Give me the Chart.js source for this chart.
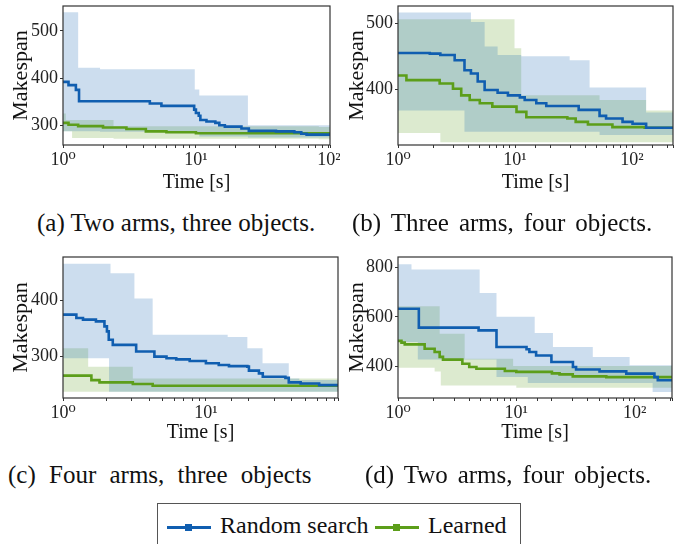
<!DOCTYPE html>
<html>
<head>
<meta charset="utf-8">
<script src="https://cdn.jsdelivr.net/npm/chart.js@4.4.0/dist/chart.umd.min.js"></script>
<style>
  body { margin: 0; background: #fff; width: 684px; height: 544px; overflow: hidden; position: relative;
         font-family: 'Liberation Serif', 'Times New Roman', serif; color: #111; }
  canvas { position: absolute; }
  .cap { position: absolute; font-size: 25px; line-height: 25px; white-space: nowrap; }
  #legend { position: absolute; left: 157px; top: 503px; width: 362px; height: 60px; border: 1px solid #555; }
  .ln { position: absolute; height: 3px; width: 44px; top: 22px; }
  .mk { position: absolute; width: 7px; height: 7px; top: -2px; left: 18px; }
  .lt { position: absolute; top: 9px; font-size: 24px; line-height: 24px; white-space: nowrap; }
</style>
</head>
<body>
<canvas id="pa" width="340" height="200" style="left:0;top:0"></canvas>
<canvas id="pb" width="344" height="200" style="left:340px;top:0"></canvas>
<canvas id="pc" width="344" height="200" style="left:0;top:250px"></canvas>
<canvas id="pd" width="344" height="200" style="left:340px;top:250px"></canvas>

<div class="cap" style="left:37px;top:210px">(a) Two arms, three objects.</div>
<div class="cap" style="left:352px;top:210px;word-spacing:3.7px">(b) Three arms, four objects.</div>
<div class="cap" style="left:8px;top:462px;word-spacing:7px">(c) Four arms, three objects</div>
<div class="cap" style="left:365px;top:462px;word-spacing:3.7px">(d) Two arms, four objects.</div>

<div id="legend">
  <div class="ln" style="left:9px;background:#105eb0"><div class="mk" style="background:#105eb0"></div></div>
  <div class="lt" style="left:62px">Random search</div>
  <div class="ln" style="left:217px;background:#5c9e1a"><div class="mk" style="background:#5c9e1a"></div></div>
  <div class="lt" style="left:270px">Learned</div>
</div>

<script>
// (a) two arms, three objects
var aRandomT = [1, 1.1, 1.25, 1.32, 4.5, 5.5, 9.7, 10, 10.5, 10.8, 12, 14, 15, 16.5, 22, 25, 40, 55, 62, 68, 102];
var aRandomY = [392, 385, 375, 351, 346, 341, 333, 326, 320, 311, 308, 305, 300, 297, 293, 288, 287, 285, 282, 280, 280];
var aLearnedT = [1, 1.1, 1.3, 2, 3, 4.2, 6, 10, 30, 102];
var aLearnedY = [305, 301, 298, 295, 292, 287, 285, 283, 283, 283];
var aRandomBandT = [1, 1.3, 1.9, 9.8, 10.6, 24.6, 102];
var aRandomHi = [540, 422, 419, 376, 363, 300, 300];
var aRandomLo = [287, 287, 286, 284, 276, 274, 274];
var aLearnedBandT = [1, 1.05, 1.17, 2.4, 84, 102];
var aLearnedHi = [325, 311, 311, 298, 296, 296];
var aLearnedLo = [287, 287, 273, 271, 270, 270];
var aYTicks = [300, 400, 500];

// (b) three arms, four objects
var bRandomT = [1, 1.87, 2.3, 3.05, 3.7, 4.2, 4.8, 5.5, 7.1, 8.7, 11, 12.1, 15.2, 18.5, 35, 52.8, 60, 83, 101, 132, 224];
var bRandomY = [455, 454, 452, 444, 429, 424, 412, 399, 395, 391, 388, 384, 379, 375, 369, 360, 356, 351, 348, 342, 342];
var bLearnedT = [1, 1.18, 1.87, 2.27, 2.95, 3.47, 4.1, 5, 6.4, 10.3, 12.5, 28, 33, 42, 68, 128, 224];
var bLearnedY = [421, 414, 414, 409, 401, 391, 384, 379, 374, 366, 358, 356, 351, 347, 343, 342, 342];
var bRandomBandT = [1, 3.7, 4.2, 5.5, 7.1, 11.3, 29.3, 43.4, 52.8, 132, 224];
var bRandomHi = [516, 516, 502, 465, 452, 450, 444, 403, 403, 365, 365];
var bRandomLo = [368, 336, 336, 336, 336, 336, 336, 336, 331, 331, 331];
var bLearnedBandT = [1, 2.3, 9.9, 11.3, 52.8, 132, 224];
var bLearnedHi = [506, 506, 462, 391, 384, 368, 368];
var bLearnedLo = [334, 320, 320, 320, 320, 320, 320];
var bYTicks = [400, 500];

// (c) four arms, three objects
var cRandomT = [1, 1.24, 1.38, 1.7, 1.95, 2.03, 2.09, 2.23, 3.25, 4.36, 5.3, 6.2, 7.7, 10, 12.3, 14.5, 19.5, 20, 23.5, 25, 36, 38, 46, 62, 84];
var cRandomY = [375, 369, 366, 363, 354, 345, 330, 321, 309, 300, 297, 295, 292, 288, 285, 283, 282, 275, 270, 264, 262, 254, 252, 249, 248];
var cLearnedT = [1, 1.5, 1.58, 1.8, 3.08, 4.24, 84];
var cLearnedY = [266, 266, 258, 254, 251, 248, 248];
var cRandomBandT = [1, 2.1, 2.15, 3.16, 4.24, 14.2, 19.5, 24.9, 38, 45, 84];
var cRandomHi = [466, 466, 449, 404, 339, 335, 315, 288, 261, 258, 258];
var cRandomLo = [297, 237, 237, 237, 237, 237, 237, 237, 237, 237, 237];
var cLearnedBandT = [1, 1.5, 3.08, 84];
var cLearnedHi = [315, 282, 261, 261];
var cLearnedLo = [237, 237, 237, 237];
var cYTicks = [300, 400];

// (d) two arms, four objects
var dRandomT = [1, 1.5, 4.8, 6.8, 12.2, 12.9, 14.7, 19.8, 30.1, 32, 50.5, 85, 147, 157, 207];
var dRandomY = [633, 556, 545, 477, 468, 457, 443, 416, 396, 386, 378, 369, 355, 342, 338];
var dLearnedT = [1, 1.07, 1.14, 1.68, 2.04, 2.25, 2.4, 3.5, 4, 4.6, 8, 10, 20, 23.2, 30, 57.6, 207];
var dLearnedY = [502, 495, 488, 470, 457, 437, 426, 409, 396, 389, 380, 376, 370, 366, 358, 355, 355];
var dRandomBandT = [1, 1.3, 1.47, 4.9, 6.8, 12.5, 14.3, 20.4, 44.3, 90.7, 142, 207];
var dRandomHi = [814, 792, 792, 697, 600, 600, 534, 477, 437, 403, 403, 403];
var dRandomLo = [498, 498, 426, 426, 355, 331, 331, 331, 331, 331, 294, 294];
var dLearnedBandT = [1, 2.04, 2.25, 2.3, 3.66, 9.4, 10, 207];
var dLearnedHi = [643, 643, 531, 531, 430, 400, 400, 400];
var dLearnedLo = [393, 378, 378, 321, 321, 321, 312, 312];
var dYTicks = [400, 600, 800];

var BLUE = '#105eb0', GREEN = '#5c9e1a';
var BLUE_BAND = 'rgba(16,94,176,0.21)', GREEN_BAND = 'rgba(92,158,26,0.21)';
var SERIF = "'Liberation Serif', 'DejaVu Serif', serif";
var SUP = ['\u2070', '\u00b9', '\u00b2', '\u00b3'];

function pts(t, y) {
    return t.map(function (v, i) { return { x: v, y: y[i] }; });
}

function line(label, data, color) {
    return { label: label, data: data, borderColor: color, borderWidth: 2.6, stepped: true, fill: false, pointRadius: 0 };
}

function band(data, color, fill) {
    return { data: data, borderColor: 'transparent', borderWidth: 0, backgroundColor: color, stepped: true, fill: fill, pointRadius: 0 };
}

// dark box round the plot area
var frame = {
    id: 'frame',
    afterDraw: function (chart) {
        var a = chart.chartArea, ctx = chart.ctx;
        ctx.save();
        ctx.strokeStyle = '#333';
        ctx.lineWidth = 1.2;
        ctx.strokeRect(a.left, a.top, a.right - a.left, a.bottom - a.top);
        ctx.restore();
    }
};

function panel(id, p) {
    new Chart(document.getElementById(id), {
        type: 'line',
        data: {
            datasets: [
                line('Random search', pts(p.rt, p.ry), BLUE),
                line('Learned', pts(p.lt, p.ly), GREEN),
                band(pts(p.rbt, p.rhi), BLUE_BAND, '+1'),
                band(pts(p.rbt, p.rlo), BLUE_BAND, false),
                band(pts(p.lbt, p.lhi), GREEN_BAND, '+1'),
                band(pts(p.lbt, p.llo), GREEN_BAND, false)
            ]
        },
        options: {
            responsive: false,
            animation: false,
            layout: { padding: { top: p.top, right: p.right, left: 0, bottom: 0 } },
            plugins: { legend: { display: false }, tooltip: { enabled: false } },
            scales: {
                x: {
                    type: 'logarithmic',
                    min: 1,
                    max: p.xmax,
                    border: { display: false },
                    grid: { drawOnChartArea: false, tickLength: 3, color: '#333' },
                    ticks: {
                        autoSkip: false, maxRotation: 0, padding: 1, color: '#222',
                        font: { family: SERIF, size: 18 },
                        callback: function (v) {
                            var e = Math.log10(v);
                            return Math.abs(e - Math.round(e)) < 1e-9 ? '10' + SUP[Math.round(e)] : '';
                        }
                    },
                    title: { display: true, text: 'Time [s]', color: '#111', font: { family: SERIF, size: 20 }, padding: { top: 0, bottom: 5 } },
                    afterFit: function (s) { s.height = p.xh; s.paddingLeft = 0; s.paddingRight = 0; }
                },
                y: {
                    min: p.ymin,
                    max: p.ymax,
                    border: { display: false },
                    grid: { drawOnChartArea: false, tickLength: 3, color: '#333' },
                    ticks: { padding: 2, color: '#222', font: { family: SERIF, size: 18 } },
                    afterBuildTicks: function (s) {
                        s.ticks = p.yticks.map(function (v) { return { value: v }; });
                    },
                    title: { display: true, text: 'Makespan', color: '#111', font: { family: SERIF, size: 22 }, padding: { top: p.tpad, bottom: 0 } },
                    afterFit: function (s) { s.width = p.yw; s.paddingTop = 0; s.paddingBottom = 0; }
                }
            }
        },
        plugins: [frame]
    });
}

panel('pa', { rt: aRandomT, ry: aRandomY, lt: aLearnedT, ly: aLearnedY,
    rbt: aRandomBandT, rhi: aRandomHi, rlo: aRandomLo, lbt: aLearnedBandT, lhi: aLearnedHi, llo: aLearnedLo,
    yticks: aYTicks, xmax: 102, ymin: 258, ymax: 553, top: 6, right: 10, yw: 63, xh: 55, tpad: 8 });
panel('pb', { rt: bRandomT, ry: bRandomY, lt: bLearnedT, ly: bLearnedY,
    rbt: bRandomBandT, rhi: bRandomHi, rlo: bRandomLo, lbt: bLearnedBandT, lhi: bLearnedHi, llo: bLearnedLo,
    yticks: bYTicks, xmax: 224, ymin: 316, ymax: 526, top: 6, right: 11, yw: 58, xh: 55, tpad: 4 });
panel('pc', { rt: cRandomT, ry: cRandomY, lt: cLearnedT, ly: cLearnedY,
    rbt: cRandomBandT, rhi: cRandomHi, rlo: cRandomLo, lbt: cLearnedBandT, lhi: cLearnedHi, llo: cLearnedLo,
    yticks: cYTicks, xmax: 84, ymin: 226, ymax: 478, top: 7, right: 6, yw: 63, xh: 52, tpad: 8 });
panel('pd', { rt: dRandomT, ry: dRandomY, lt: dLearnedT, ly: dLearnedY,
    rbt: dRandomBandT, rhi: dRandomHi, rlo: dRandomLo, lbt: dLearnedBandT, lhi: dLearnedHi, llo: dLearnedLo,
    yticks: dYTicks, xmax: 207, ymin: 270, ymax: 843, top: 7, right: 12, yw: 58, xh: 52, tpad: 4 });
</script>
</body>
</html>
